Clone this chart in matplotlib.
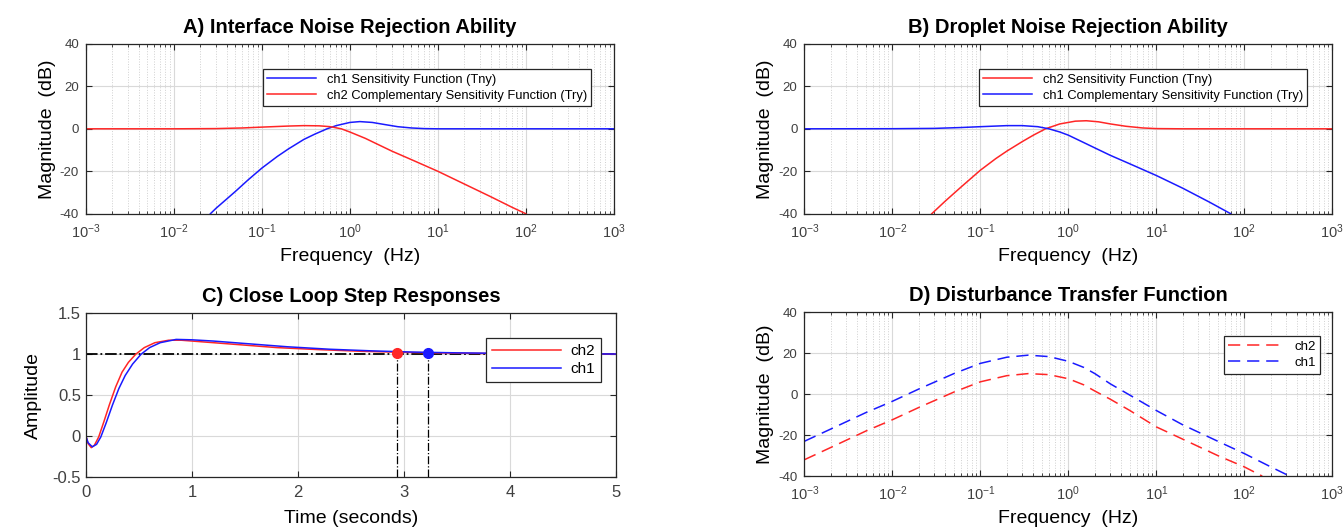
import matplotlib
matplotlib.use("Agg")
import matplotlib.pyplot as plt
from matplotlib.ticker import LogLocator, NullFormatter, FixedLocator, LogFormatterSciNotation

plt.rcParams['font.family'] = ['Liberation Sans', 'DejaVu Sans']
plt.rcParams['mathtext.fontset'] = 'custom'
plt.rcParams['mathtext.rm'] = 'Liberation Sans'
plt.rcParams['mathtext.it'] = 'Liberation Sans:italic'
plt.rcParams['mathtext.bf'] = 'Liberation Sans:bold'
plt.rcParams['axes.unicode_minus'] = False

# ---------------- data ----------------
freq_ticks = [1e-3, 1e-2, 1e-1, 1e0, 1e1, 1e2, 1e3]

# Panel A: Interface noise rejection
a_ch1_S_f = [0.026, 0.03, 0.04, 0.05, 0.07, 0.1, 0.15, 0.2, 0.3, 0.4, 0.55, 0.7, 1.0, 1.3,
             1.8, 2.5, 3.5, 5, 7, 10, 20, 100, 1000]
a_ch1_S_db = [-40, -37.5, -33, -29.5, -24, -18.5, -13, -9.5, -5, -2.5, 0, 1.5, 3.0, 3.4,
              3.0, 2.0, 1.0, 0.4, 0.1, 0, 0, 0, 0]
a_ch2_T_f = [0.001, 0.01, 0.03, 0.06, 0.1, 0.2, 0.3, 0.45, 0.6, 0.8, 1.0, 1.5, 2.0, 3.0,
             5.0, 10, 20, 40, 70, 100]
a_ch2_T_db = [0, 0, 0.1, 0.4, 0.8, 1.3, 1.5, 1.4, 1.0, 0.0, -1.5, -4.5, -7, -10.5,
              -14.5, -20, -26, -32, -37, -40]

# Panel B: Droplet noise rejection
b_ch2_S_f = [0.028, 0.04, 0.06, 0.1, 0.15, 0.2, 0.3, 0.4, 0.55, 0.8, 1.2, 1.6, 2.2, 3.0,
             4.5, 7, 10, 20, 1000]
b_ch2_S_db = [-40, -34, -27.5, -19.5, -14, -10.5, -6, -3, 0, 2.3, 3.6, 3.8, 3.3, 2.3,
              1.2, 0.4, 0.1, 0, 0]
b_ch1_T_f = [0.001, 0.01, 0.03, 0.06, 0.1, 0.2, 0.3, 0.45, 0.6, 0.8, 1.0, 1.5, 2.0, 3.0,
             5.0, 10, 20, 40, 70]
b_ch1_T_db = [0, 0.05, 0.2, 0.6, 1.0, 1.5, 1.5, 1.0, 0.0, -1.5, -3, -6.5, -9, -12.5,
              -16.5, -22, -28, -34.5, -40]

# Panel C: closed-loop step responses
c_ch2_t = [0, 0.02, 0.05, 0.08, 0.12, 0.17, 0.22, 0.28, 0.34, 0.4, 0.47, 0.55, 0.65, 0.78,
           0.9, 1.1, 1.4, 1.8, 2.2, 2.6, 3.0, 3.5, 4.0, 4.5, 5.0]
c_ch2_y = [0, -0.09, -0.14, -0.11, -0.01, 0.18, 0.38, 0.6, 0.78, 0.9, 1.0, 1.08, 1.14, 1.17,
           1.17, 1.15, 1.12, 1.08, 1.055, 1.035, 1.022, 1.012, 1.006, 1.003, 1.001]
c_ch1_t = [0, 0.02, 0.06, 0.1, 0.14, 0.19, 0.25, 0.31, 0.37, 0.44, 0.52, 0.6, 0.7, 0.85,
           1.0, 1.2, 1.5, 1.9, 2.3, 2.7, 3.1, 3.5, 4.0, 4.5, 5.0]
c_ch1_y = [0, -0.08, -0.13, -0.1, -0.01, 0.16, 0.38, 0.58, 0.74, 0.88, 1.0, 1.08, 1.14, 1.18,
           1.175, 1.16, 1.13, 1.09, 1.06, 1.04, 1.025, 1.016, 1.009, 1.004, 1.002]
c_steady = 1.0
c_settle_t = [2.93, 3.22]        # ch2, ch1
c_settle_y = [1.02, 1.02]

# Panel D: disturbance transfer function
d_ch2_f = [0.001, 0.002, 0.005, 0.01, 0.02, 0.05, 0.1, 0.2, 0.35, 0.6, 1.0, 1.5, 2.0, 3.0,
           5.0, 10, 20, 50, 100, 160]
d_ch2_db = [-32, -26, -18, -12.5, -6.5, 1, 6, 9, 10, 9.5, 7.5, 4.5, 1.5, -2.5,
            -8, -16, -22, -30, -35.5, -40]
d_ch1_f = [0.001, 0.002, 0.005, 0.01, 0.02, 0.05, 0.1, 0.2, 0.35, 0.6, 1.0, 1.5, 2.0, 3.0,
           5.0, 10, 20, 50, 100, 200, 310]
d_ch1_db = [-23, -17, -9, -3.5, 2.5, 10, 15, 18, 19, 18.3, 16, 13, 10, 5,
            -0.5, -8, -15, -23, -29, -35.5, -39.5]

RED = (1.0, 0.15, 0.15)
BLUE = (0.1, 0.1, 1.0)
EDGE = '#262626'
TICKC = '#404040'
TITLE_FS = 14.5
LABEL_FS = 14

fig = plt.figure(figsize=(13.43, 5.29), dpi=100)

def style(ax, log=True):
    for s in ax.spines.values():
        s.set_color(EDGE)
        s.set_linewidth(0.9)
    ax.tick_params(which='both', direction='in', top=True, right=True,
                   colors=EDGE, labelcolor=TICKC, labelsize=9.5)
    ax.tick_params(which='major', length=4)
    ax.tick_params(which='minor', length=2.2)
    ax.grid(True, which='major', color='#d9d9d9', linewidth=0.8, linestyle='-')
    if log:
        ax.grid(True, which='minor', color='#d0d0d0', linewidth=0.7, linestyle=':')
    ax.set_axisbelow(True)

def logax(ax):
    ax.set_xscale('log')
    ax.set_xlim(1e-3, 1e3)
    ax.set_ylim(-40, 40)
    ax.xaxis.set_major_locator(FixedLocator(freq_ticks))
    ax.xaxis.set_major_formatter(LogFormatterSciNotation())
    ax.xaxis.set_minor_locator(LogLocator(base=10, subs=range(2, 10), numticks=20))
    ax.xaxis.set_minor_formatter(NullFormatter())
    ax.set_yticks([-40, -20, 0, 20, 40])
    ax.set_xlabel('Frequency  (Hz)', fontsize=LABEL_FS, labelpad=5)
    ax.set_ylabel('Magnitude  (dB)', fontsize=LABEL_FS, labelpad=3)
    style(ax, True)
    ax.tick_params(axis='x', labelsize=10.5, pad=6)
    ax.tick_params(axis='y', pad=5)

def legend(ax, anchor, fs, hl):
    lg = ax.legend(loc='upper right', bbox_to_anchor=anchor, fontsize=fs, frameon=True,
                   fancybox=False, edgecolor=EDGE, framealpha=1, handlelength=hl,
                   borderpad=0.35, labelspacing=0.3, handletextpad=0.8)
    lg.get_frame().set_linewidth(0.9)
    return lg

# ---- A ----
axA = fig.add_axes([0.064, 0.596, 0.393, 0.321])
axA.plot(a_ch1_S_f, a_ch1_S_db, color=BLUE, lw=1.1, label='ch1 Sensitivity Function (Tny)')
axA.plot(a_ch2_T_f, a_ch2_T_db, color=RED, lw=1.1, label='ch2 Complementary Sensitivity Function (Try)')
logax(axA)
axA.set_title('A) Interface Noise Rejection Ability', fontsize=TITLE_FS, fontweight='bold', pad=8)
legend(axA, (0.97, 0.89), 9.3, 3.8)

# ---- B ----
axB = fig.add_axes([0.599, 0.596, 0.393, 0.321])
axB.plot(b_ch2_S_f, b_ch2_S_db, color=RED, lw=1.1, label='ch2 Sensitivity Function (Tny)')
axB.plot(b_ch1_T_f, b_ch1_T_db, color=BLUE, lw=1.1, label='ch1 Complementary Sensitivity Function (Try)')
logax(axB)
axB.set_title('B) Droplet Noise Rejection Ability', fontsize=TITLE_FS, fontweight='bold', pad=8)
legend(axB, (0.965, 0.89), 9.3, 3.8)

# ---- C ----
axC = fig.add_axes([0.064, 0.098, 0.395, 0.31])
axC.plot(c_ch2_t, c_ch2_y, color=RED, lw=1.1, label='ch2')
axC.plot(c_ch1_t, c_ch1_y, color=BLUE, lw=1.1, label='ch1')
axC.axhline(c_steady, color='k', lw=1.3, ls='-.', zorder=1.5)
for t, y, col in zip(c_settle_t, c_settle_y, [RED, BLUE]):
    axC.plot([t, t], [-0.5, y], color='k', lw=0.9, ls='-.')
    axC.plot([t], [y], 'o', color=col, ms=7, zorder=5)
axC.set_xlim(0, 5)
axC.set_ylim(-0.5, 1.5)
axC.set_xticks([0, 1, 2, 3, 4, 5])
axC.set_yticks([-0.5, 0, 0.5, 1, 1.5])
axC.set_yticklabels(['-0.5', '0', '0.5', '1', '1.5'])
axC.set_xlabel('Time (seconds)', fontsize=LABEL_FS, labelpad=7)
axC.set_ylabel('Amplitude', fontsize=LABEL_FS, labelpad=8)
axC.set_title('C) Close Loop Step Responses', fontsize=TITLE_FS, fontweight='bold', pad=8)
style(axC, False)
axC.tick_params(labelsize=12)
axC.tick_params(axis='x', pad=6)
lgC = axC.legend(loc='upper right', bbox_to_anchor=(0.985, 0.895), fontsize=11, frameon=True,
                 fancybox=False, edgecolor=EDGE, framealpha=1, handlelength=4.5,
                 borderpad=0.4, labelspacing=0.25, handletextpad=0.6)
lgC.get_frame().set_linewidth(0.9)

# ---- D ----
axD = fig.add_axes([0.599, 0.1, 0.393, 0.31])
axD.plot(d_ch2_f, d_ch2_db, color=RED, lw=1.1, ls=(0, (8, 4.5)), label='ch2')
axD.plot(d_ch1_f, d_ch1_db, color=BLUE, lw=1.1, ls=(0, (8, 4.5)), label='ch1')
logax(axD)
axD.set_title('D) Disturbance Transfer Function', fontsize=TITLE_FS, fontweight='bold', pad=8)
legend(axD, (0.99, 0.895), 9.5, 4.2)

fig.savefig('out.png', dpi=100)
